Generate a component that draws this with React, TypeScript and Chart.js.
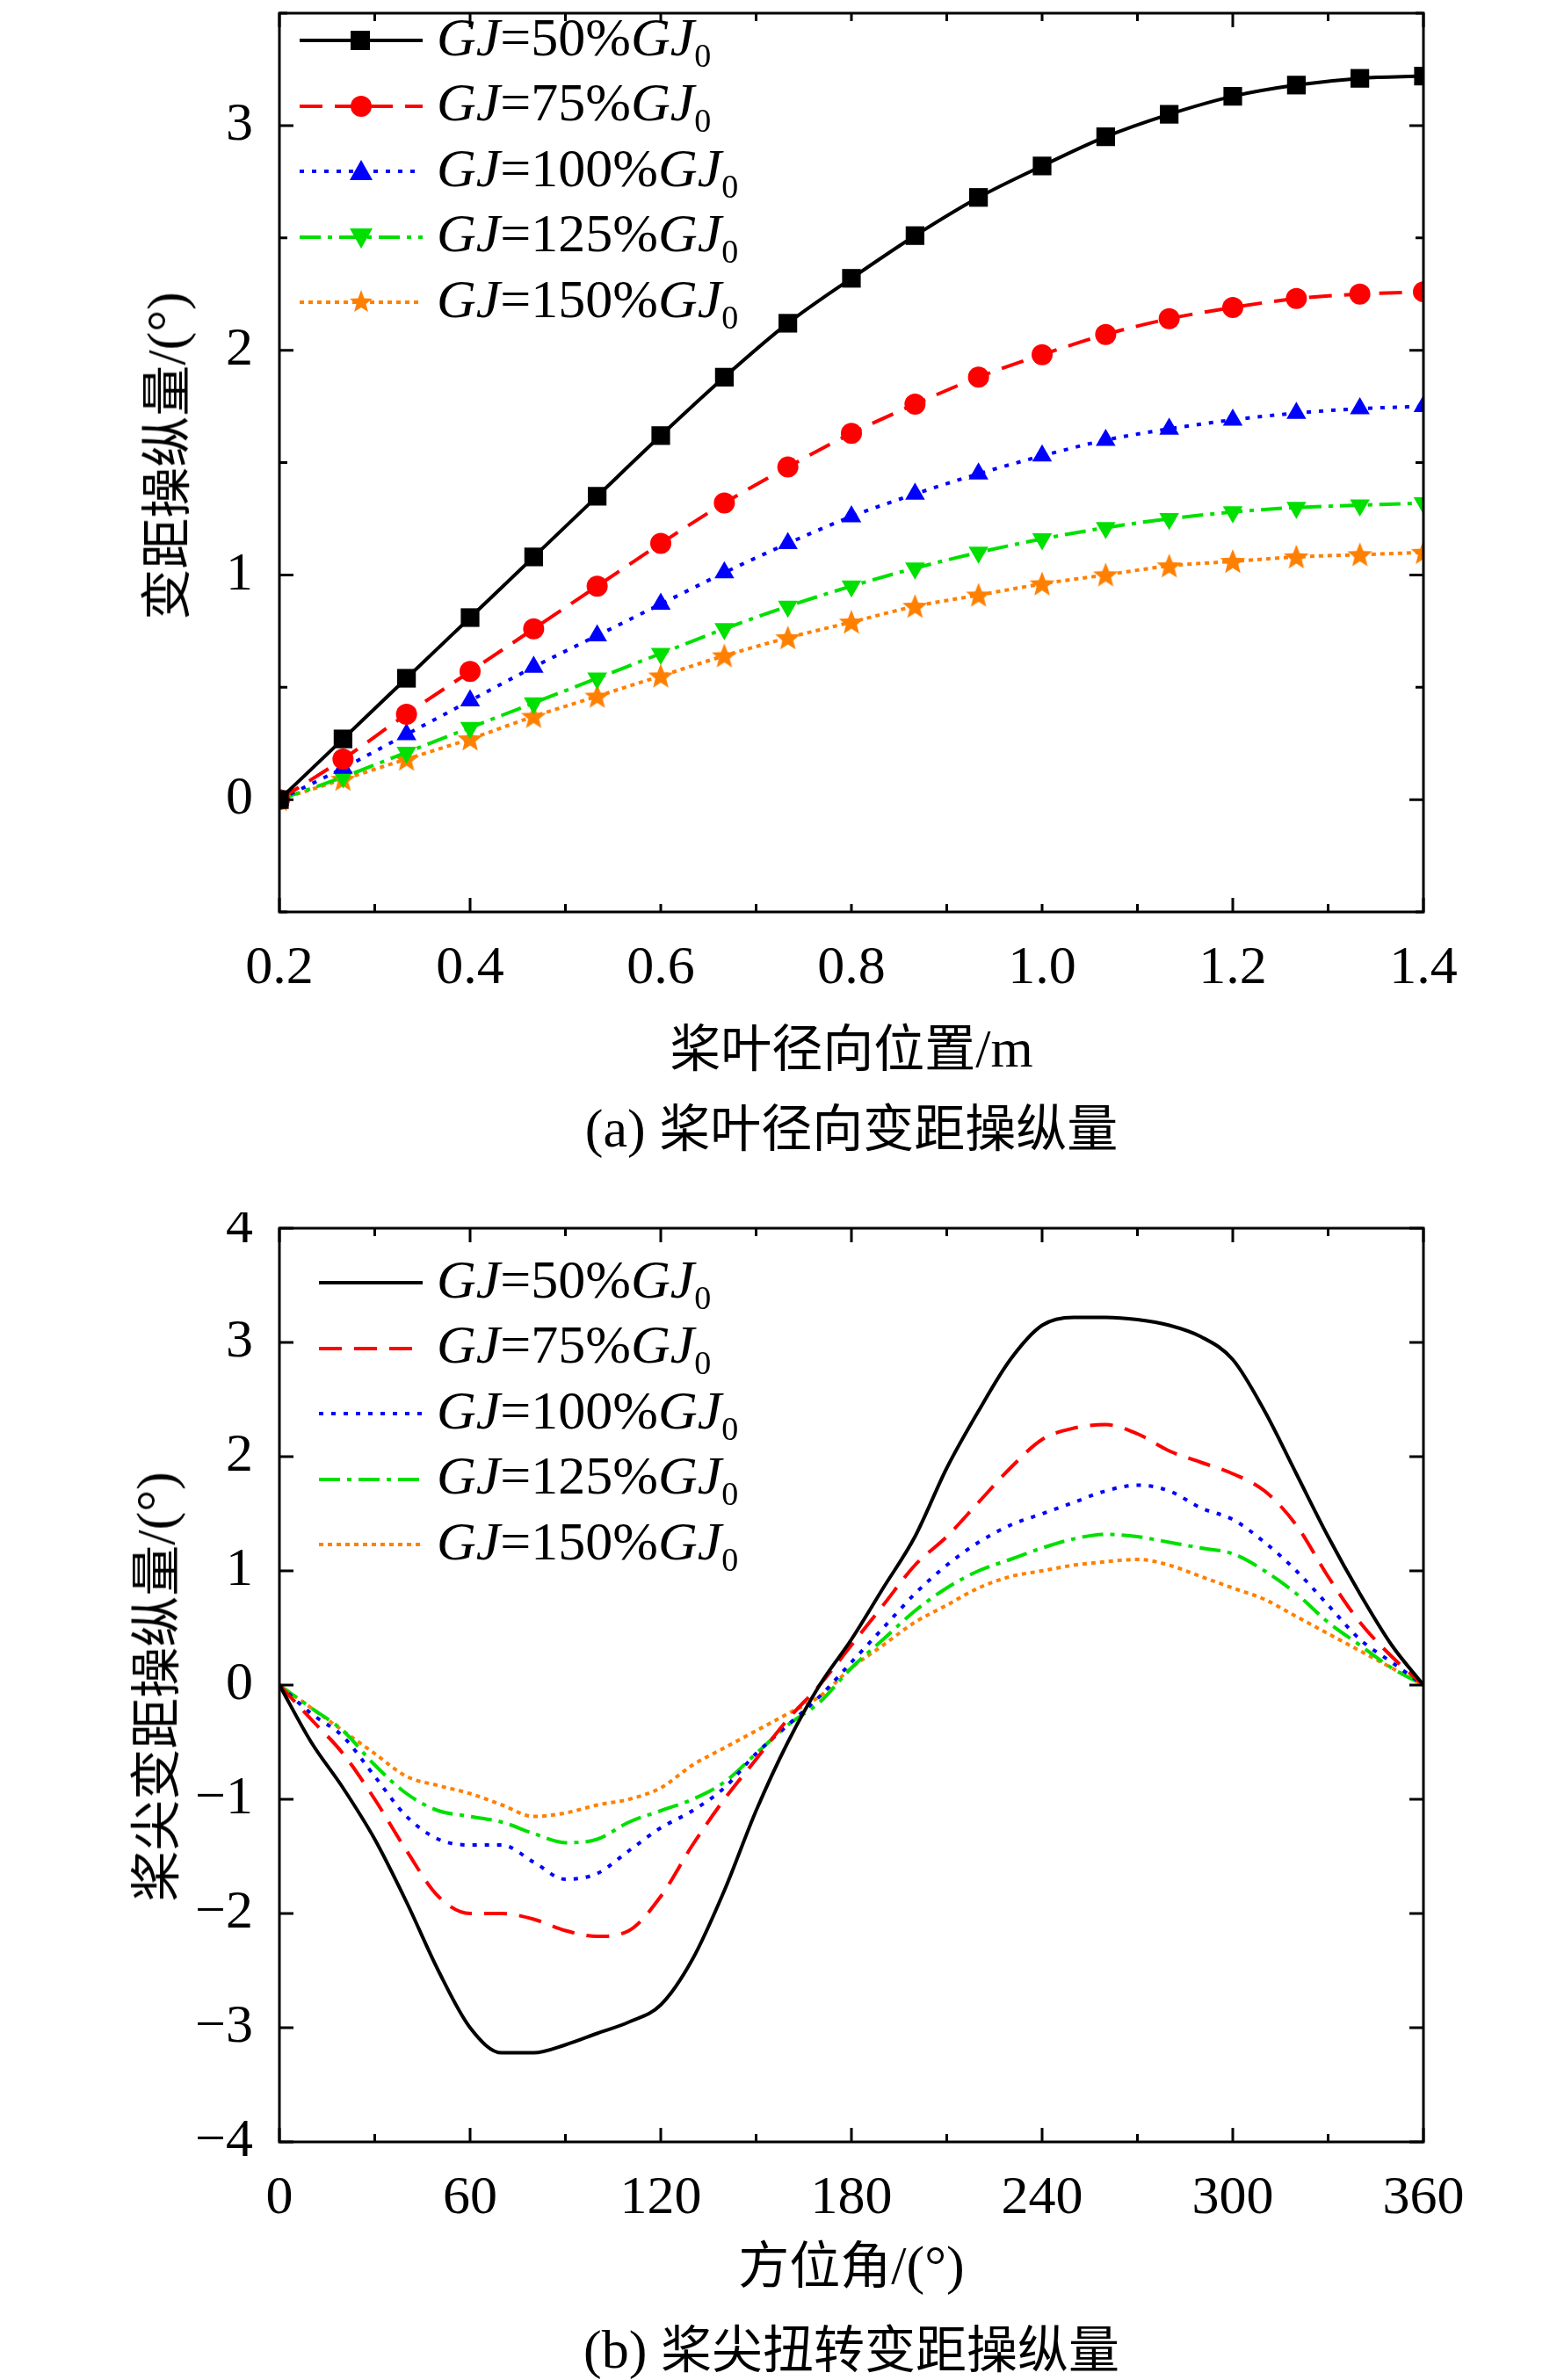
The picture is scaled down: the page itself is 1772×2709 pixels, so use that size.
import { useEffect, useRef } from 'react';
import Chart from 'chart.js/auto';

const radialPos = [0.2, 0.2667, 0.3333, 0.4, 0.4667, 0.5333, 0.6, 0.6667, 0.7333, 0.8, 0.8667, 0.9333, 1.0, 1.0667, 1.1333, 1.2, 1.2667, 1.3333, 1.4];
const radial50 = [0, 0.27, 0.54, 0.81, 1.08, 1.35, 1.62, 1.88, 2.12, 2.32, 2.51, 2.68, 2.82, 2.95, 3.05, 3.13, 3.18, 3.21, 3.22];
const radial75 = [0, 0.18, 0.38, 0.57, 0.76, 0.95, 1.14, 1.32, 1.48, 1.63, 1.76, 1.88, 1.98, 2.07, 2.14, 2.19, 2.23, 2.25, 2.26];
const radial100 = [0, 0.14, 0.29, 0.44, 0.59, 0.73, 0.87, 1.01, 1.14, 1.26, 1.36, 1.45, 1.53, 1.6, 1.65, 1.69, 1.72, 1.74, 1.75];
const radial125 = [0, 0.1, 0.21, 0.32, 0.43, 0.54, 0.65, 0.76, 0.86, 0.95, 1.03, 1.1, 1.16, 1.21, 1.25, 1.28, 1.3, 1.31, 1.32];
const radial150 = [0, 0.09, 0.18, 0.27, 0.37, 0.46, 0.55, 0.64, 0.72, 0.79, 0.86, 0.91, 0.96, 1.0, 1.04, 1.06, 1.08, 1.09, 1.1];

const azimuth = [0, 10, 20, 30, 40, 50, 60, 70, 80, 90, 100, 110, 120, 130, 140, 150, 160, 170, 180, 190, 200, 210, 220, 230, 240, 250, 260, 270, 280, 290, 300, 310, 320, 330, 340, 350, 360];
const tip50 = [0, -0.5, -0.9, -1.35, -1.9, -2.5, -3.0, -3.22, -3.22, -3.15, -3.05, -2.95, -2.8, -2.4, -1.8, -1.1, -0.5, 0, 0.4, 0.85, 1.3, 1.9, 2.4, 2.85, 3.15, 3.22, 3.22, 3.2, 3.15, 3.05, 2.85, 2.4, 1.85, 1.3, 0.8, 0.35, 0];
const tip75 = [0, -0.3, -0.6, -1.0, -1.45, -1.85, -2.0, -2.0, -2.05, -2.15, -2.2, -2.15, -1.85, -1.4, -1.0, -0.65, -0.3, 0, 0.35, 0.7, 1.05, 1.3, 1.6, 1.9, 2.15, 2.25, 2.28, 2.2, 2.05, 1.95, 1.85, 1.7, 1.4, 0.95, 0.55, 0.25, 0];
const tip100 = [0, -0.25, -0.45, -0.8, -1.15, -1.35, -1.4, -1.4, -1.55, -1.7, -1.65, -1.45, -1.25, -1.1, -0.9, -0.6, -0.35, -0.1, 0.2, 0.5, 0.8, 1.05, 1.25, 1.4, 1.5, 1.6, 1.7, 1.75, 1.7, 1.55, 1.45, 1.25, 1.0, 0.7, 0.4, 0.2, 0];
const tip125 = [0, -0.2, -0.4, -0.7, -0.95, -1.1, -1.15, -1.2, -1.3, -1.38, -1.35, -1.2, -1.1, -1.0, -0.85, -0.6, -0.35, -0.15, 0.15, 0.4, 0.65, 0.85, 1.0, 1.1, 1.2, 1.28, 1.32, 1.3, 1.25, 1.2, 1.15, 1.0, 0.8, 0.55, 0.35, 0.15, 0];
const tip150 = [0, -0.2, -0.4, -0.6, -0.8, -0.88, -0.95, -1.05, -1.15, -1.12, -1.05, -1.0, -0.9, -0.7, -0.55, -0.4, -0.25, -0.1, 0.15, 0.35, 0.55, 0.7, 0.85, 0.95, 1.0, 1.05, 1.08, 1.1, 1.05, 0.95, 0.85, 0.75, 0.6, 0.45, 0.3, 0.15, 0];

const seriesLabels = ['50%', '75%', '100%', '125%', '150%'];
const colors = ['#000000', '#ff0000', '#0000ff', '#00e000', '#ff8000'];
const dashes = [[], [26, 14], [5, 9], [24, 8, 5, 8], [5, 5]];
const rotations = [0, 0, 0, 180, 0];
const STAR_PTS = '70,6 73.5,15.5 83,16 75.5,22 78,31 70,26 62,31 64.5,22 57,16 66.5,15.5';

const FONT = '"Liberation Serif", "Times New Roman", serif';
const CJK = '"Noto Sans CJK SC", "Liberation Serif", serif';

// filled star marker, since the built-in star is stroke-only
function starImage(color: string) {
  const c = document.createElement('canvas');
  c.width = 32; c.height = 32;
  const g = c.getContext('2d')!;
  g.fillStyle = color;
  g.beginPath();
  for (let i = 0; i < 10; i++) {
    const r = i % 2 === 0 ? 15 : 6.5;
    const a = -Math.PI / 2 + (i * Math.PI) / 5;
    const px = 16 + r * Math.cos(a), py = 17 + r * Math.sin(a);
    i === 0 ? g.moveTo(px, py) : g.lineTo(px, py);
  }
  g.closePath();
  g.fill();
  return c;
}

// draws the frame and inward ticks
const framePlugin = {
  id: 'frame',
  afterDraw(chart: any) {
    const { ctx, chartArea: a } = chart;
    const minor = chart.options.plugins.frame;
    ctx.save();
    ctx.strokeStyle = '#000';
    ctx.lineWidth = 3;
    ctx.strokeRect(a.left, a.top, a.right - a.left, a.bottom - a.top);
    const xs = chart.scales.x, ys = chart.scales.y;
    const tick = (v: number, len: number, isX: boolean) => {
      ctx.beginPath();
      if (isX) {
        const p = xs.getPixelForValue(v);
        ctx.moveTo(p, a.bottom); ctx.lineTo(p, a.bottom - len);
        ctx.moveTo(p, a.top); ctx.lineTo(p, a.top + len);
      } else {
        const p = ys.getPixelForValue(v);
        ctx.moveTo(a.left, p); ctx.lineTo(a.left + len, p);
        ctx.moveTo(a.right, p); ctx.lineTo(a.right - len, p);
      }
      ctx.stroke();
    };
    for (let v = xs.min; v <= xs.max + 1e-9; v += minor.xStep) {
      const major = Math.abs(((v - xs.min) / minor.xStep) % 2) < 1e-6;
      tick(v, major ? 16 : 9, true);
    }
    for (let v = Math.ceil(ys.min / minor.yStep) * minor.yStep; v <= ys.max + 1e-9; v += minor.yStep) {
      const major = Math.abs(v - Math.round(v)) < 1e-6;
      tick(v, major ? 16 : 9, false);
    }
    ctx.restore();
  },
};

function makeOptions(xmin: number, xmax: number, xstep: number, ymin: number, ymax: number, topPad: number, xAxisH: number, xDecimals: number, minorX: number, minorY: number, yTickVals: number[]): any {
  return {
    animation: false,
    responsive: false,
    layout: { padding: { left: 0, right: 152, top: topPad, bottom: 0 } },
    plugins: { legend: { display: false }, tooltip: { enabled: false }, frame: { xStep: minorX, yStep: minorY } },
    scales: {
      x: {
        type: 'linear', min: xmin, max: xmax,
        afterFit: (s: any) => { s.height = xAxisH; s.paddingLeft = 0; s.paddingRight = 0; },
        ticks: { stepSize: xstep, color: '#000', font: { family: FONT, size: 62 }, padding: 20, maxRotation: 0, callback: (v: any) => Number(v).toFixed(xDecimals) },
        grid: { display: false }, border: { display: false },
      },
      y: {
        type: 'linear', min: ymin, max: ymax,
        afterFit: (s: any) => { s.width = 318; s.paddingTop = 0; s.paddingBottom = 0; },
        afterBuildTicks: (s: any) => { s.ticks = yTickVals.map((v) => ({ value: v })); },
        ticks: { color: '#000', font: { family: FONT, size: 62 }, padding: 22, callback: (v: any) => (Number(v) < 0 ? '\u2212' + Math.abs(Number(v)) : String(v)) },
        grid: { display: false }, border: { display: false },
      },
    },
  };
}

function LegendBox({ top, left, withMarkers }: { top: number; left: number; withMarkers: boolean }) {
  return (
    <div style={{ position: 'absolute', top, left }}>
      {seriesLabels.map((lab, i) => (
        <div key={lab} style={{ display: 'flex', alignItems: 'center', height: 74.5 }}>
          <svg width={withMarkers ? 140 : 118} height={40} style={{ marginRight: 16 }}>
            <line x1={0} y1={20} x2={withMarkers ? 140 : 118} y2={20} stroke={colors[i]} strokeWidth={4} strokeDasharray={dashes[i].join(' ')} />
            {withMarkers && i === 0 && <rect x={58} y={9} width={22} height={22} fill="#000" />}
            {withMarkers && i === 1 && <circle cx={70} cy={20} r={12} fill={colors[1]} />}
            {withMarkers && i === 2 && <polygon points="70,7 83,30 57,30" fill={colors[2]} />}
            {withMarkers && i === 3 && <polygon points="70,33 83,10 57,10" fill={colors[3]} />}
            {withMarkers && i === 4 && <polygon points={STAR_PTS} fill={colors[4]} />}
          </svg>
          <span style={{ fontFamily: FONT, fontSize: 62, lineHeight: 1 }}>
            <i>GJ</i>={lab}<i>GJ</i><sub style={{ fontSize: 38 }}>0</sub>
          </span>
        </div>
      ))}
    </div>
  );
}

export default function App() {
  const refA = useRef<HTMLCanvasElement>(null);
  const refB = useRef<HTMLCanvasElement>(null);

  useEffect(() => {
    document.body.style.margin = '0';
    if (!refA.current || !refB.current) return;
    const radialSeries = [radial50, radial75, radial100, radial125, radial150];
    const tipSeries = [tip50, tip75, tip100, tip125, tip150];
    const markers: any[] = ['rect', 'circle', 'triangle', 'triangle', starImage(colors[4])];
    const radii = [15, 12, 13, 13, 14];
    const a = new Chart(refA.current, {
      type: 'line',
      data: {
        datasets: radialSeries.map((s, i) => ({
          data: s.map((y, k) => ({ x: radialPos[k], y })),
          borderColor: colors[i], backgroundColor: colors[i], borderWidth: 4, borderDash: dashes[i],
          pointStyle: markers[i], rotation: rotations[i], pointRadius: radii[i], pointBorderWidth: 0,
          cubicInterpolationMode: 'monotone' as const,
        })),
      },
      options: makeOptions(0.2, 1.4, 0.2, -0.5, 3.5, 2, 202, 1, 0.1, 0.5, [0, 1, 2, 3]),
      plugins: [framePlugin],
    });
    const b = new Chart(refB.current, {
      type: 'line',
      data: {
        datasets: tipSeries.map((s, i) => ({
          data: s.map((y, k) => ({ x: azimuth[k], y })),
          borderColor: colors[i], borderWidth: 4, borderDash: dashes[i], pointRadius: 0,
          cubicInterpolationMode: 'monotone' as const,
        })),
      },
      options: makeOptions(0, 360, 60, -4, 4, 18, 182, 0, 30, 1, [-4, -3, -2, -1, 0, 1, 2, 3, 4]),
      plugins: [framePlugin],
    });
    return () => { a.destroy(); b.destroy(); };
  }, []);

  const title = { position: 'absolute' as const, fontFamily: CJK, fontSize: 58, whiteSpace: 'nowrap' as const, transform: 'translate(-50%, -50%)' };
  const latin = { fontFamily: FONT, fontSize: 62 };
  return (
    <div style={{ position: 'relative', width: 1772, height: 2709, background: '#fff', overflow: 'hidden' }}>
      <canvas ref={refA} width={1772} height={1240} style={{ position: 'absolute', left: 0, top: 0, width: 1772, height: 1240 }} />
      <canvas ref={refB} width={1772} height={1240} style={{ position: 'absolute', left: 0, top: 1380, width: 1772, height: 1240 }} />
      <LegendBox top={9} left={341} withMarkers />
      <LegendBox top={1423} left={363} withMarkers={false} />
      <div style={{ ...title, left: 969, top: 1189 }}>桨叶径向位置<span style={latin}>/m</span></div>
      <div style={{ ...title, left: 969, top: 1280 }}><span style={latin}>(a) </span>桨叶径向变距操纵量</div>
      <div style={{ ...title, left: 969, top: 2574 }}>方位角<span style={latin}>/(°)</span></div>
      <div style={{ ...title, left: 969, top: 2670 }}><span style={latin}>(b) </span>桨尖扭转变距操纵量</div>
      <div style={{ ...title, left: 185, top: 519, transform: 'translate(-50%, -50%) rotate(-90deg)' }}>变距操纵量<span style={latin}>/(°)</span></div>
      <div style={{ ...title, left: 173, top: 1920, transform: 'translate(-50%, -50%) rotate(-90deg)' }}>桨尖变距操纵量<span style={latin}>/(°)</span></div>
    </div>
  );
}
